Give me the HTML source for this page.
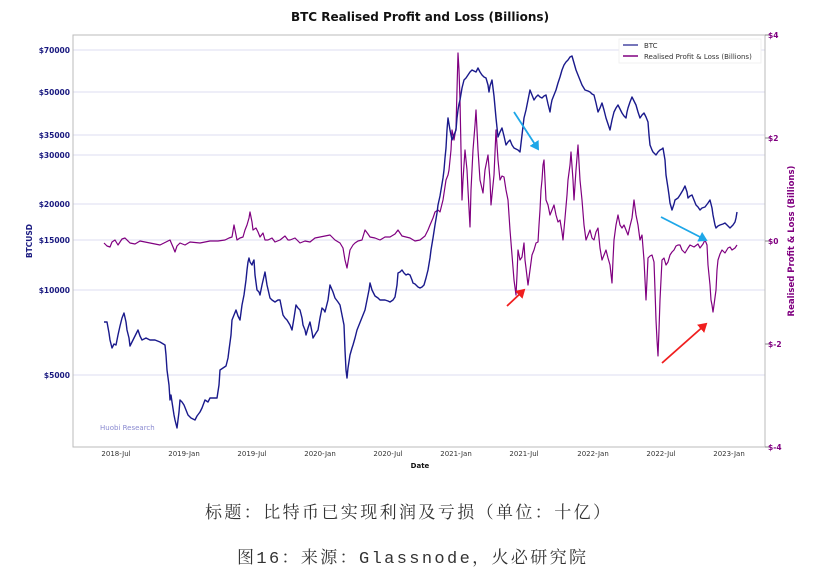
<!DOCTYPE html>
<html><head><meta charset="utf-8"><style>
html,body{margin:0;padding:0;background:#fff;width:840px;height:576px;overflow:hidden}
svg text{font-family:"DejaVu Sans","Liberation Sans",sans-serif}
</style></head><body>
<svg width="840" height="576" viewBox="0 0 840 576" xmlns="http://www.w3.org/2000/svg">
<text x="420" y="21" text-anchor="middle" font-size="12" font-weight="bold" fill="#111">BTC Realised Profit and Loss (Billions)</text>
<g stroke="#dcdcf0" stroke-width="1">
<line x1="73" x2="765" y1="50" y2="50"/><line x1="73" x2="765" y1="92" y2="92"/>
<line x1="73" x2="765" y1="135" y2="135"/><line x1="73" x2="765" y1="155" y2="155"/>
<line x1="73" x2="765" y1="204" y2="204"/><line x1="73" x2="765" y1="240" y2="240"/>
<line x1="73" x2="765" y1="290" y2="290"/><line x1="73" x2="765" y1="375" y2="375"/>
</g>
<rect x="73" y="35" width="692" height="412" fill="none" stroke="#bbb" stroke-width="1"/>
<g font-size="7.5" fill="#1a1a80" font-weight="bold" text-anchor="end">
<text x="70" y="53">$70000</text><text x="70" y="95">$50000</text><text x="70" y="138">$35000</text>
<text x="70" y="158">$30000</text><text x="70" y="207">$20000</text><text x="70" y="243">$15000</text>
<text x="70" y="293">$10000</text><text x="70" y="378">$5000</text>
</g>
<text x="32" y="241" font-size="7.5" font-weight="bold" fill="#1a1a80" text-anchor="middle" transform="rotate(-90 32 241)">BTCUSD</text>
<g stroke="#888" stroke-width="1"><line x1="765" y1="35" x2="770" y2="35"/><line x1="765" y1="138" x2="770" y2="138"/><line x1="765" y1="241" x2="770" y2="241"/><line x1="765" y1="344" x2="770" y2="344"/><line x1="765" y1="447" x2="770" y2="447"/></g>
<g font-size="7.5" fill="#800080" font-weight="bold">
<text x="768" y="38">$4</text><text x="768" y="141">$2</text><text x="768" y="244">$0</text><text x="768" y="347">$-2</text><text x="768" y="450">$-4</text>
</g>
<text x="794" y="241" font-size="8.5" font-weight="bold" fill="#800080" text-anchor="middle" transform="rotate(-90 794 241)">Realised Profit &amp; Loss (Billions)</text>
<g font-size="7" fill="#333" text-anchor="middle">
<text x="116" y="456">2018-Jul</text><text x="184" y="456">2019-Jan</text><text x="252" y="456">2019-Jul</text>
<text x="320" y="456">2020-Jan</text><text x="388" y="456">2020-Jul</text><text x="456" y="456">2021-Jan</text>
<text x="524" y="456">2021-Jul</text><text x="593" y="456">2022-Jan</text><text x="661" y="456">2022-Jul</text>
<text x="729" y="456">2023-Jan</text>
</g>
<text x="420" y="468" font-size="7" font-weight="bold" text-anchor="middle" fill="#111">Date</text>
<text x="100" y="430" font-size="7" fill="#8a8ad0">Huobi Research</text>
<polyline fill="none" stroke="#800080" stroke-width="1.2" stroke-linejoin="round" points="104,243 107,246 110,247 112,242 115,240 118,245 122,239 125,238 130,243 135,244 140,241 150,243 160,245 166,242 170,240 173,247 175,252 177,246 180,243 185,245 190,242 200,243 210,241 218,241 225,240 229,238 232,237 234,225 237,240 240,238 243,237 245,230 247,225 249,218 250,212 252,222 253,230 256,228 258,232 260,237 263,233 265,240 268,240 272,238 275,242 280,240 285,236 288,240 290,240 295,238 300,243 305,241 310,242 315,238 320,237 325,236 330,235 335,240 340,243 343,248 345,260 347,268 348,262 350,250 353,245 355,243 358,241 362,240 365,230 368,234 370,237 375,238 380,240 385,237 390,237 395,234 398,230 402,236 406,237 410,238 415,241 420,240 425,236 428,230 430,225 433,218 435,212 438,210 440,212 443,200 446,180 448,175 449,170 451,150 452,130 454,140 456,128 457,90 458,53 459,70 460,100 461,150 462,200 463,180 465,150 467,170 468,190 470,227 471,190 473,150 475,125 476,110 478,150 480,180 483,193 485,170 486,165 488,155 490,180 491,205 493,185 494,175 496,130 498,160 500,180 502,176 504,177 506,190 508,200 510,230 512,255 514,280 516,295 517,275 518,250 520,260 522,257 524,243 525,260 526,268 528,285 530,270 532,255 534,250 536,243 538,242 539,225 540,210 541,190 542,180 543,165 544,160 546,200 548,205 550,215 552,210 554,205 556,215 558,222 560,220 562,232 563,240 565,218 567,195 568,180 570,165 571,152 573,180 574,200 576,170 578,145 580,180 582,200 584,225 586,240 588,235 590,230 592,238 594,240 596,232 598,228 600,248 602,260 604,255 606,250 608,258 610,265 612,283 613,260 614,240 616,225 618,215 620,225 622,228 624,225 626,230 628,235 630,226 632,218 634,200 636,215 638,225 640,240 642,235 644,260 645,280 646,300 647,280 648,258 650,256 652,255 654,262 655,290 656,320 657,340 658,356 659,330 660,300 661,280 662,260 664,258 666,265 668,262 670,255 672,252 674,250 676,246 678,245 680,245 682,250 685,253 688,248 690,245 694,247 698,244 700,248 703,244 705,240 707,245 708,265 710,285 711,300 712,305 713,312 714,305 716,290 717,270 718,260 720,254 722,250 725,253 728,248 730,247 732,250 735,248 737,245"/>
<polyline fill="none" stroke="#1a1a8c" stroke-width="1.4" stroke-linejoin="round" points="104,322 107,322 109,333 110,340 112,348 114,344 116,345 118,335 120,326 122,318 124,313 126,322 127,330 129,338 130,346 132,342 134,338 136,334 138,330 140,336 142,340 146,338 150,340 155,340 160,342 165,345 166,355 167,370 169,385 170,400 171,395 172,402 174,415 175,420 176,424 177,428 179,412 180,400 182,402 184,405 186,410 188,415 191,418 195,420 197,416 200,412 202,408 205,400 208,402 210,398 214,398 217,398 219,385 220,370 223,368 226,366 228,358 229,350 231,335 232,320 234,315 236,310 238,316 240,320 242,305 244,295 246,280 247,270 248,262 249,258 250,262 252,265 253,262 254,260 255,275 257,290 259,292 260,295 262,285 265,272 267,285 270,298 272,300 275,302 278,300 280,300 282,310 283,315 285,318 287,320 290,325 292,330 294,318 296,305 298,308 300,310 302,318 303,325 305,330 306,335 308,328 310,322 312,332 313,338 316,333 318,330 320,318 322,308 324,310 325,312 328,300 330,285 333,292 335,298 338,302 340,305 342,315 344,325 345,350 346,370 347,378 348,368 350,355 352,348 353,345 355,338 357,330 359,325 361,320 363,315 365,310 366,305 367,300 369,290 370,283 372,290 375,296 378,298 380,300 383,300 385,300 388,301 390,302 393,300 395,297 397,285 398,273 400,272 402,270 404,273 406,275 408,274 410,275 412,280 413,283 415,284 416,285 418,287 420,288 422,287 424,285 426,278 428,270 430,258 431,250 433,238 435,225 437,213 438,205 440,196 441,190 443,178 444,170 445,158 446,148 447,130 448,118 450,130 452,140 454,135 456,130 457,118 458,110 459,104 460,100 462,88 464,80 466,78 468,75 470,72 472,70 474,71 476,72 477,70 478,68 480,72 482,75 484,77 486,78 488,85 489,92 490,86 492,80 493,88 494,96 496,118 498,137 500,132 502,128 504,136 506,145 508,142 510,140 512,145 514,148 516,149 518,150 520,152 522,135 524,118 526,110 528,100 530,90 532,95 534,100 536,97 538,95 540,97 542,98 544,96 546,95 548,104 550,112 551,105 552,100 554,95 556,90 558,83 560,77 562,70 564,65 566,62 568,60 570,57 572,56 574,63 576,70 578,75 580,80 582,85 585,90 588,91 590,92 592,94 594,95 596,103 598,112 600,108 602,103 604,110 606,118 608,124 610,130 612,120 614,112 616,108 618,105 620,109 622,113 624,116 626,118 627,112 628,108 630,102 632,97 634,101 636,105 638,112 640,118 642,115 644,113 646,117 648,122 649,135 650,145 652,150 653,152 655,154 656,155 658,152 660,150 662,149 663,148 665,160 666,175 668,188 669,195 670,203 672,210 674,204 675,200 678,198 680,195 683,190 685,186 687,192 688,198 690,196 692,195 694,200 696,205 698,207 700,210 702,208 705,207 708,203 710,200 712,208 713,215 715,225 716,228 718,226 720,225 723,224 725,223 728,226 730,228 733,225 735,222 736,218 737,212"/>
<rect x="619" y="39" width="142" height="24" fill="#fff" stroke="#eee" stroke-width="0.8"/>
<line x1="623" y1="45" x2="638" y2="45" stroke="#1a1a8c" stroke-width="1.2"/>
<line x1="623" y1="56" x2="638" y2="56" stroke="#800080" stroke-width="1.5"/>
<g font-size="7" fill="#333"><text x="644" y="48">BTC</text><text x="644" y="59">Realised Profit &amp; Loss (Billions)</text></g>
<defs>
<marker id="ab" markerWidth="6" markerHeight="6" refX="4" refY="3" orient="auto" markerUnits="strokeWidth"><path d="M0,0 L5,3 L0,6 z" fill="#1ea7e8"/></marker>
<marker id="ar" markerWidth="6" markerHeight="6" refX="4" refY="3" orient="auto" markerUnits="strokeWidth"><path d="M0,0 L5,3 L0,6 z" fill="#f01e1e"/></marker>
</defs>
<line x1="514" y1="112" x2="538" y2="149" stroke="#1ea7e8" stroke-width="1.8" marker-end="url(#ab)"/>
<line x1="661" y1="217" x2="706" y2="240" stroke="#1ea7e8" stroke-width="1.8" marker-end="url(#ab)"/>
<line x1="507" y1="306" x2="524" y2="290" stroke="#f01e1e" stroke-width="1.8" marker-end="url(#ar)"/>
<line x1="662" y1="363" x2="706" y2="324" stroke="#f01e1e" stroke-width="1.8" marker-end="url(#ar)"/>
<text x="205" y="518" font-size="17" fill="#333" textLength="405" lengthAdjust="spacing" style="font-family:'Noto Serif CJK SC','Liberation Serif',serif">标题：比特币已实现利润及亏损（单位：十亿）</text>
<text x="237" y="563" font-size="17" fill="#333" textLength="349" lengthAdjust="spacing" style="font-family:'Liberation Mono','Noto Serif CJK SC',monospace">图16：来源：Glassnode，火必研究院</text>
</svg>
</body></html>
